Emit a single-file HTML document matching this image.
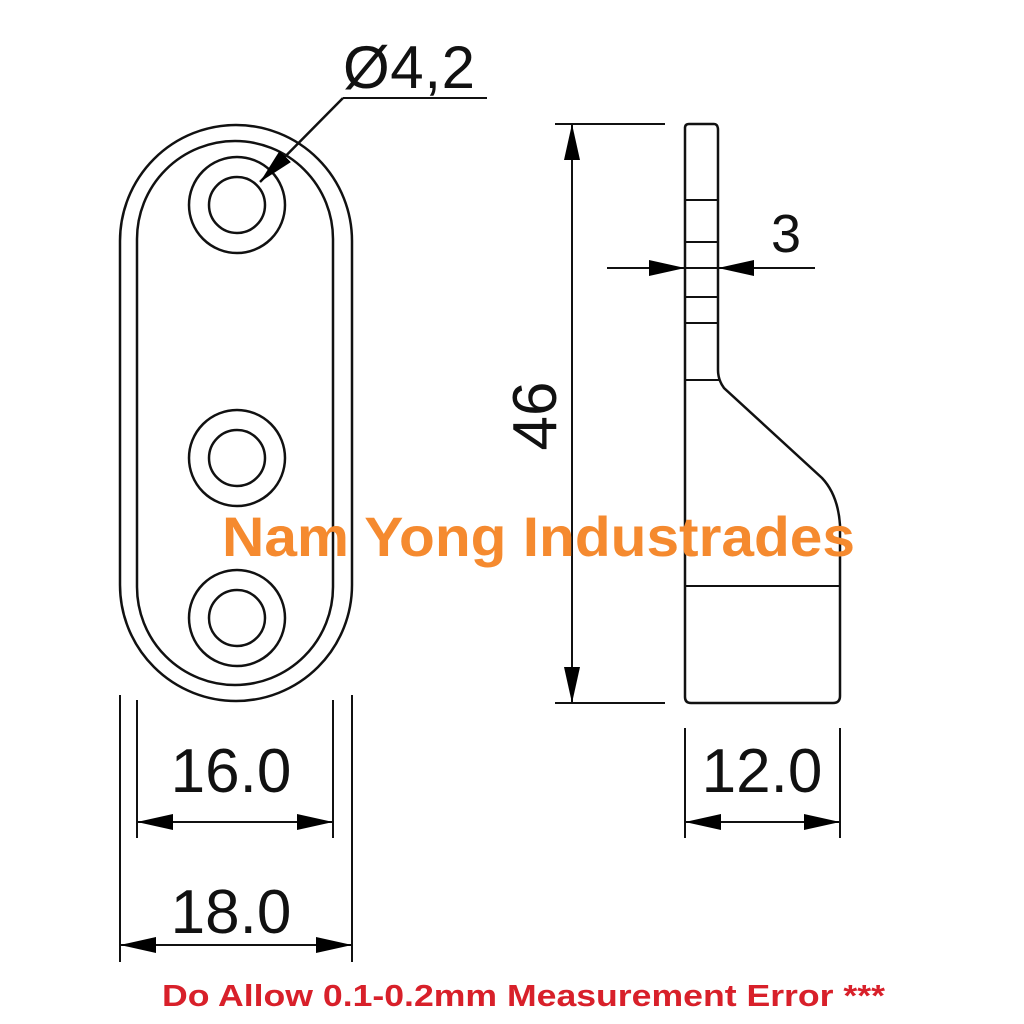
<!DOCTYPE html>
<html><head><style>
html,body{margin:0;padding:0;background:#fff;}
svg{display:block;}
</style></head><body>
<svg width="1024" height="1024" viewBox="0 0 1024 1024" xmlns="http://www.w3.org/2000/svg">
<defs>
<marker id="a" viewBox="0 0 36 16" refX="36" refY="8" markerWidth="36" markerHeight="16" markerUnits="userSpaceOnUse" orient="auto-start-reverse">
<path d="M0,0 L36,8 L0,16 z" fill="#000"/></marker>
</defs>
<rect width="1024" height="1024" fill="#fff"/>
<g fill="none" stroke="#111" stroke-width="2.5">
<rect x="120" y="125" width="232" height="576" rx="116" ry="116"/>
<rect x="137" y="141" width="196" height="544" rx="98" ry="98"/>
<circle cx="237" cy="205" r="48"/><circle cx="237" cy="205" r="28"/>
<circle cx="237" cy="458" r="48"/><circle cx="237" cy="458" r="28"/>
<circle cx="237" cy="618" r="48"/><circle cx="237" cy="618" r="28"/>
<path d="M685,128 Q685,124 689,124 L714,124 Q718,124 718,130 L718,370 Q718,380 724,388 L822,478 Q838,495 840,525 L840,696 Q840,703 833,703 L691,703 Q685,703 685,697 Z"/>
<line x1="685" y1="200" x2="717" y2="200" stroke-width="2"/>
<line x1="685" y1="242" x2="717" y2="242" stroke-width="2"/>
<line x1="685" y1="268" x2="717" y2="268" stroke-width="2"/>
<line x1="685" y1="297" x2="717" y2="297" stroke-width="2"/>
<line x1="685" y1="323" x2="717" y2="323" stroke-width="2"/>
<line x1="685" y1="380" x2="720" y2="380" stroke-width="2"/>
<line x1="685" y1="586" x2="840" y2="586" stroke-width="2"/>
</g>
<g stroke="#111" stroke-width="2" fill="none">
<line x1="487" y1="98" x2="343" y2="98"/>
<line x1="343" y1="98" x2="260" y2="182" marker-end="url(#a)" stroke-width="2.5"/>
<line x1="555" y1="124" x2="665" y2="124"/>
<line x1="555" y1="703" x2="665" y2="703"/>
<line x1="572" y1="124" x2="572" y2="703" marker-start="url(#a)" marker-end="url(#a)"/>
<line x1="607" y1="268" x2="685" y2="268" marker-end="url(#a)"/>
<line x1="815" y1="268" x2="718" y2="268" marker-end="url(#a)"/>
<line x1="137" y1="700" x2="137" y2="838"/>
<line x1="333" y1="700" x2="333" y2="838"/>
<line x1="137" y1="822" x2="333" y2="822" marker-start="url(#a)" marker-end="url(#a)"/>
<line x1="120" y1="695" x2="120" y2="962"/>
<line x1="352" y1="695" x2="352" y2="962"/>
<line x1="120" y1="945" x2="352" y2="945" marker-start="url(#a)" marker-end="url(#a)"/>
<line x1="685" y1="728" x2="685" y2="838"/>
<line x1="840" y1="728" x2="840" y2="838"/>
<line x1="685" y1="822" x2="840" y2="822" marker-start="url(#a)" marker-end="url(#a)"/>
</g>
<g font-family="Liberation Sans, sans-serif" fill="#111" font-size="62">
<text x="343" y="88" font-size="60" textLength="132">Ø4,2</text>
<text x="231" y="792" text-anchor="middle">16.0</text>
<text x="231" y="933" text-anchor="middle">18.0</text>
<text x="762" y="792" text-anchor="middle">12.0</text>
<text x="786" y="252" text-anchor="middle" font-size="54">3</text>
<text transform="translate(556,416) rotate(-90)" text-anchor="middle">46</text>
</g>
<text x="222" y="556" textLength="633" lengthAdjust="spacingAndGlyphs" font-family="Liberation Sans, sans-serif" font-weight="bold" font-size="56" fill="#f58a2f">Nam Yong Industrades</text>
<text x="162" y="1006" textLength="723" lengthAdjust="spacingAndGlyphs" font-family="Liberation Sans, sans-serif" font-weight="bold" font-size="31" fill="#d8202a">Do Allow 0.1-0.2mm Measurement Error ***</text>
</svg>
</body></html>
